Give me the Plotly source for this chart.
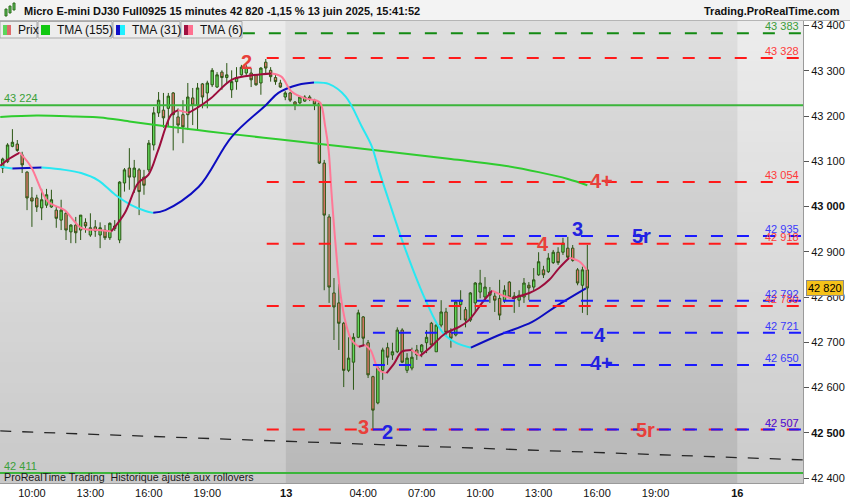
import plotly.graph_objects as go

# ---------------- data ----------------
bar_index = list(range(-58, 63))
open_ = [43085, 43099, 43133, 43138, 43114, 43076, 43019, 43019, 42997, 43003,
         42999, 42992, 42970, 42985, 42944, 42959, 42948, 42965, 42937, 42955,
         42937, 42948, 42931, 42951, 42926, 43052, 43085, 43065, 43081, 43065,
         43081, 43136, 43207, 43213, 43217, 43251, 43198, 43203, 43203, 43240,
         43224, 43271, 43251, 43269, 43264, 43297, 43285, 43258, 43276, 43291,
         43295, 43295, 43291, 43273, 43319, 43301, 43285, 43273, 43242, 43251,
         43231, 43229, 43233, 43242, 43235, 43229, 43096, 42977, 42809, 42787,
         42742, 42638, 42656, 42711, 42756, 42699, 42624, 42566, 42638, 42688,
         42672, 42679, 42727, 42638, 42643, 42683, 42679, 42699, 42742, 42679,
         42738, 42767, 42722, 42716, 42783, 42772, 42749, 42787, 42811, 42800,
         42811, 42802, 42797, 42793, 42833, 42802, 42793, 42800, 42826, 42822,
         42849, 42860, 42856, 42876, 42899, 42899, 42908, 42908, 42860, 42826,
         42860]
high = [43108, 43140, 43171, 43147, 43121, 43078, 43043, 43026, 43039, 43039,
        43037, 42999, 43015, 42990, 42961, 42977, 42981, 42974, 42985, 42970,
        42965, 42959, 42965, 42970, 43056, 43085, 43129, 43103, 43085, 43081,
        43147, 43220, 43253, 43251, 43251, 43253, 43217, 43235, 43273, 43262,
        43273, 43273, 43278, 43306, 43297, 43301, 43317, 43301, 43308, 43313,
        43313, 43306, 43292, 43308, 43326, 43308, 43291, 43280, 43255, 43253,
        43233, 43244, 43246, 43246, 43238, 43233, 43103, 42983, 42842, 42829,
        42745, 42711, 42720, 42772, 42758, 42705, 42626, 42647, 42688, 42699,
        42699, 42733, 42731, 42676, 42688, 42694, 42696, 42727, 42745, 42740,
        42793, 42776, 42731, 42793, 42815, 42778, 42811, 42833, 42860, 42844,
        42822, 42811, 42838, 42826, 42835, 42811, 42815, 42842, 42833, 42864,
        42899, 42869, 42897, 42904, 42910, 42931, 42933, 42915, 42864, 42867,
        42915]
low = [43074, 43096, 43131, 43121, 43074, 42992, 42955, 42988, 42970, 42997,
       42997, 42953, 42948, 42926, 42919, 42919, 42926, 42942, 42933, 42933,
       42908, 42926, 42926, 42946, 42919, 43033, 43037, 43030, 42981, 43026,
       43076, 43124, 43198, 43174, 43176, 43124, 43162, 43140, 43169, 43180,
       43169, 43217, 43217, 43264, 43262, 43258, 43273, 43240, 43258, 43289,
       43287, 43264, 43267, 43247, 43291, 43276, 43269, 43262, 43235, 43231,
       43213, 43226, 43231, 43233, 43213, 43094, 42815, 42787, 42705, 42683,
       42601, 42634, 42595, 42709, 42694, 42621, 42505, 42563, 42617, 42650,
       42661, 42676, 42654, 42632, 42638, 42661, 42667, 42676, 42690, 42679,
       42733, 42716, 42688, 42713, 42749, 42733, 42745, 42767, 42797, 42793,
       42787, 42767, 42749, 42787, 42797, 42765, 42778, 42787, 42793, 42815,
       42847, 42842, 42853, 42873, 42871, 42893, 42886, 42878, 42826, 42765,
       42760]
close = [43105, 43136, 43142, 43124, 43092, 43019, 43012, 42999, 43015, 43026,
         43015, 42974, 42992, 42948, 42959, 42942, 42981, 42957, 42953, 42946,
         42953, 42931, 42963, 42957, 43054, 43081, 43065, 43085, 43033, 43047,
         43140, 43207, 43235, 43196, 43244, 43203, 43180, 43176, 43242, 43224,
         43262, 43242, 43273, 43301, 43291, 43285, 43291, 43276, 43285, 43308,
         43308, 43280, 43269, 43306, 43306, 43287, 43276, 43264, 43251, 43235,
         43224, 43242, 43242, 43237, 43226, 43096, 42981, 42822, 42778, 42742,
         42638, 42665, 42711, 42765, 42709, 42628, 42550, 42643, 42683, 42667,
         42679, 42727, 42656, 42665, 42667, 42672, 42694, 42711, 42694, 42738,
         42767, 42722, 42709, 42789, 42793, 42749, 42809, 42831, 42831, 42822,
         42804, 42793, 42760, 42815, 42800, 42797, 42804, 42831, 42820, 42838,
         42878, 42849, 42886, 42899, 42876, 42919, 42888, 42881, 42831, 42860,
         42820]

# moving averages
tma155_x = [-58.5, -51, -43, -38, -32, -25, -18, -11, -1, 9, 19, 34, 44, 52, 58, 62]
tma155_y = [43198, 43201, 43199, 43197, 43188, 43178, 43169, 43160, 43148, 43136,
            43124, 43105, 43092, 43076, 43061, 43047]

tma31_x = [-58.5, -56, -50, -45.3, -41.9, -38.4, -34.9, -31.6, -28.7, -27.1, -24.6,
           -17.8, -11, -4, -1.4, 2.7, 5.9, 8.9, 12.4, 15.7, 17.8, 19.2, 21.2, 24.7,
           28.8, 32.2, 35, 38.1, 43.9, 50.7, 55.5, 61.7]
tma31_y = [43088, 43084, 43086, 43081, 43074, 43058, 43026, 43003, 42990, 42986, 42992,
           43043, 43154, 43224, 43251, 43269, 43274, 43271, 43243, 43177, 43132, 43081,
           43015, 42904, 42793, 42723, 42699, 42688, 42716, 42745, 42779, 42819]

tma6_x = [-58.5, -57, -54.5, -52.2, -48.7, -45.3, -41.9, -38.4, -35.7, -32.9, -30.2,
          -28.1, -26.1, -23.4, -22, -19.9, -17.8, -15.2, -11, -7.5, -2.8, -0.8, 1.3,
          4.1, 6.2, 7.2, 8.2, 8.9, 9.5, 10.3, 11.3, 12.4, 13.6, 15.1, 16.3, 17.5,
          19.2, 20.8, 22.4, 23.9, 25.9, 27.7, 29.7, 32.9, 35.7, 37.7, 40.4, 42.5,
          44.5, 46.5, 50.1, 52.1, 54.2, 56.2, 58.3, 60.3, 61.9]
tma6_y = [43090, 43103, 43119, 43088, 43011, 42992, 42953, 42948, 42945, 42986, 43052,
          43070, 43124, 43203, 43213, 43207, 43220, 43240, 43280, 43289, 43294, 43287,
          43254, 43239, 43235, 43229, 43177, 43124, 43030, 42919, 42809, 42743, 42705,
          42690, 42694, 42683, 42639, 42632, 42654, 42679, 42683, 42670, 42688, 42720,
          42734, 42749, 42787, 42814, 42804, 42797, 42809, 42820, 42838, 42864, 42887,
          42879, 42860]

# horizontal levels
red_levels = [43328, 43054, 42918, 42780, 42507]
blue_levels = [42935, 42792, 42721, 42650, 42507]
green_dash_level = 43383
green_solid_levels = [43224, 42411]
red_start, blue_start, green_dash_start = -3.8, 18.0, -8.7
trend_x = [-58.5, 106.3]
trend_y = [42504, 42440]
last_price = 42820

# big wave labels: text, colour key, bar position, price
wave_labels = [("2", "r", -8, 43320), ("3", "r", 16, 42513), ("2", "b", 21, 42502),
               ("4", "r", 53, 42918), ("3", "b", 60, 42950), ("5r", "b", 73.2, 42935),
               ("4+", "r", 65, 43056), ("4", "b", 64.7, 42716), ("4+", "b", 65, 42654),
               ("5r", "r", 74, 42506)]

x_tick_pos = [-52, -40, -28, -16, 0.2, 16, 28, 40, 52, 64, 76, 92.8]
x_tick_txt = ["10:00", "13:00", "16:00", "19:00", "<b>13</b>", "04:00", "07:00",
              "10:00", "13:00", "16:00", "19:00", "<b>16</b>"]
y_ticks = list(range(42400, 43401, 100))
day_bounds = [-58.6, 0.1, 92.8, 106.4]

# ---------------- style ----------------
X_RANGE = [-58.55, 106.27]
Y_RANGE = [42389, 43410]
PLOT_L, PLOT_R, PLOT_T, PLOT_B = 0, 803, 21, 483
FONT = "Liberation Sans, Arial, sans-serif"
WICK = "#2b5614"
UP = "#62d95a"
DOWN = "#e4786c"
RED = "#ff1a1a"
BLUE = "#1a1aff"
RED_T = "#e8403a"
BLUE_T = "#2222e0"
DASH = "12px,14px"


def fmt(v):
    return f"{v:,}".replace(",", " ")


def px(x):
    return (x - PLOT_L) / (PLOT_R - PLOT_L)


def py(y):
    return (PLOT_B - y) / (PLOT_B - PLOT_T)


fig = go.Figure()

# background day bands with vertical gradient (heatmaps sit below candles)
band_cols = [("#c9c9c9", "#ebebeb"), ("#b8b8b8", "#dfdfdf"), ("#cbcbcb", "#ececec")]
NROWS = 46
y_edges = [Y_RANGE[0] + (Y_RANGE[1] - Y_RANGE[0]) * k / NROWS for k in range(NROWS + 1)]
for i in range(3):
    a, b = day_bounds[i], day_bounds[i + 1]
    bot, top = band_cols[i]
    fig.add_trace(go.Heatmap(
        x=[a, b], y=y_edges, z=[[k / (NROWS - 1)] for k in range(NROWS)],
        zmin=0, zmax=1, colorscale=[[0, bot], [1, top]], showscale=False,
        hoverinfo="skip"))

# solid green levels
for lv in green_solid_levels:
    fig.add_trace(go.Scatter(x=X_RANGE, y=[lv, lv], mode="lines",
                             line=dict(color="#3bb53b", width=2), hoverinfo="skip",
                             showlegend=False))

# diagonal trend line
fig.add_trace(go.Scatter(x=trend_x, y=trend_y, mode="lines",
                         line=dict(color="#262626", width=1.3, dash="11px,11px"),
                         hoverinfo="skip", showlegend=False))

# TMA 155
fig.add_trace(go.Scatter(x=tma155_x, y=tma155_y, mode="lines", line_shape="spline",
                         line=dict(color="#2fcc2f", width=2), hoverinfo="skip",
                         showlegend=False))


def add_two_colour(xs, ys, up_col, down_col, width=2):
    runs = []
    cur = [0]
    direction = None
    for k in range(1, len(xs)):
        d = ys[k] >= ys[k - 1]
        if direction is None or d == direction:
            cur.append(k)
        else:
            runs.append((direction, cur))
            cur = [k - 1, k]
        direction = d
    runs.append((direction, cur))
    for d, idx in runs:
        fig.add_trace(go.Scatter(x=[xs[k] for k in idx], y=[ys[k] for k in idx],
                                 mode="lines", line_shape="spline",
                                 line=dict(color=up_col if d else down_col, width=width),
                                 hoverinfo="skip", showlegend=False))


# candles
fig.add_trace(go.Candlestick(
    x=bar_index, open=open_, high=high, low=low, close=close,
    increasing=dict(line=dict(color=WICK, width=1), fillcolor=UP),
    decreasing=dict(line=dict(color=WICK, width=1), fillcolor=DOWN),
    whiskerwidth=0, showlegend=False, hoverinfo="skip"))

add_two_colour(tma31_x, tma31_y, "#0d0dc0", "#28e8f2")
add_two_colour(tma6_x, tma6_y, "#9c0d3c", "#ff7896")

# dashed levels
fig.add_trace(go.Scatter(x=[green_dash_start, X_RANGE[1]], y=[green_dash_level] * 2,
                         mode="lines", line=dict(color="#138a13", width=2, dash=DASH),
                         hoverinfo="skip", showlegend=False))
for lv in red_levels:
    fig.add_trace(go.Scatter(x=[red_start, X_RANGE[1]], y=[lv, lv], mode="lines",
                             line=dict(color=RED, width=2, dash=DASH),
                             hoverinfo="skip", showlegend=False))
for lv in blue_levels:
    fig.add_trace(go.Scatter(x=[blue_start, X_RANGE[1]], y=[lv, lv], mode="lines",
                             line=dict(color=BLUE, width=2, dash=DASH),
                             hoverinfo="skip", showlegend=False))

ann = []
shapes = []


# level labels on the right
def level_label(v, col, op=1.0):
    ann.append(dict(x=px(800), xref="paper", y=v, yref="y", xanchor="right",
                    yanchor="bottom", text=fmt(v), showarrow=False, opacity=op,
                    font=dict(family=FONT, size=11, color=col), borderpad=0))


level_label(green_dash_level, "#3a9c3a")
for lv in red_levels:
    level_label(lv, "#ff3a3a")
for lv in blue_levels:
    level_label(lv, "#2a2aff", 0.9)

# left labels on solid green levels
for lv in green_solid_levels:
    ann.append(dict(x=px(3), xref="paper", y=lv, yref="y", xanchor="left",
                    yanchor="bottom", text=fmt(lv), showarrow=False, borderpad=0,
                    font=dict(family=FONT, size=11, color="#3aa03a")))

# wave labels
for t, c, xv, yv in wave_labels:
    ann.append(dict(x=xv, y=yv, xref="x", yref="y", text=f"<b>{t}</b>", showarrow=False,
                    font=dict(family=FONT, size=20, color=RED_T if c == "r" else BLUE_T)))

# current price tag
ann.append(dict(x=px(806), xref="paper", y=last_price, yref="y", xanchor="left",
                yanchor="middle", text=fmt(last_price), showarrow=False,
                bgcolor="#f6c21a", bordercolor="#8a8a8a", borderwidth=1, borderpad=1,
                font=dict(family=FONT, size=11, color="#000")))

# title bar
shapes.append(dict(type="rect", xref="paper", yref="paper", x0=px(0), x1=px(850),
                   y0=py(21), y1=py(0), fillcolor="#f3f3f3", line=dict(width=0),
                   layer="above"))
shapes.append(dict(type="line", xref="paper", yref="paper", x0=px(0), x1=px(850),
                   y0=py(20.5), y1=py(20.5), line=dict(color="#b5b5b5", width=1),
                   layer="above"))
# little candle icon
for (x0, x1, y0, y1, col) in [(5, 7, 9, 16, "#5dc85d"), (9, 11, 6, 13, "#5dc85d"),
                              (13, 15, 3, 10, "#5dc85d")]:
    shapes.append(dict(type="rect", xref="paper", yref="paper", x0=px(x0), x1=px(x1),
                       y0=py(y1), y1=py(y0), fillcolor=col,
                       line=dict(color="#2d6a1a", width=1), layer="above"))
ann.append(dict(x=px(22), y=py(11), xref="paper", yref="paper", xanchor="left",
                yanchor="middle", showarrow=False,
                text="<b>Micro E-mini DJ30 Full0925 15 minutes 42 820 -1,15 % 13 juin 2025, 15:41:52</b>",
                font=dict(family=FONT, size=11, color="#111")))
ann.append(dict(x=px(842), y=py(11), xref="paper", yref="paper", xanchor="right",
                yanchor="middle", showarrow=False, text="<b>Trading.ProRealTime.com</b>",
                font=dict(family=FONT, size=11, color="#111")))

# legend row
legend_boxes = [(0, 37, "Prix", 16, [("#5cd65c", 3, 7), ("#e06a6a", 7, 11)]),
                (38, 112, "TMA (155)", 55, [("#11c811", 41, 50)]),
                (113, 180, "TMA (31)", 130, [("#1010c8", 116, 120), ("#20f0ff", 120, 125)]),
                (181, 242, "TMA (6)", 198, [("#a01040", 184, 188), ("#ff7090", 188, 193)])]
for x0, x1, label, tx, icons in legend_boxes:
    shapes.append(dict(type="rect", xref="paper", yref="paper", x0=px(x0), x1=px(x1),
                       y0=py(38), y1=py(21.5), fillcolor="#ededed",
                       line=dict(color="#a9a9a9", width=1), layer="above"))
    for col, a, b in icons:
        shapes.append(dict(type="rect", xref="paper", yref="paper", x0=px(a), x1=px(b),
                           y0=py(35), y1=py(25), fillcolor=col, line=dict(width=0),
                           layer="above"))
    ann.append(dict(x=px(tx), y=py(30), xref="paper", yref="paper", xanchor="left",
                    yanchor="middle", showarrow=False, text=label,
                    font=dict(family=FONT, size=12, color="#111")))

# footer text inside plot
ann.append(dict(x=px(2), y=py(477), xref="paper", yref="paper", xanchor="left",
                yanchor="middle", showarrow=False,
                text="ProRealTime Trading  Historique ajusté aux rollovers",
                font=dict(family=FONT, size=10.7, color="#1a1a1a")))

fig.update_layout(
    width=850, height=500,
    margin=dict(l=PLOT_L, r=850 - PLOT_R, t=PLOT_T, b=500 - PLOT_B),
    paper_bgcolor="white", plot_bgcolor="#d8d8d8",
    showlegend=False, annotations=ann, shapes=shapes,
    xaxis=dict(range=X_RANGE, tickvals=x_tick_pos, ticktext=x_tick_txt, showgrid=False,
               zeroline=False, showline=True, linecolor="#9a9a9a", ticks="",
               tickfont=dict(family=FONT, size=11, color="#111"),
               rangeslider=dict(visible=False), fixedrange=True),
    yaxis=dict(range=Y_RANGE, side="right", tickvals=y_ticks,
               ticktext=[f"<b>{fmt(v)}</b>" if v in (43000, 42500) else fmt(v) for v in y_ticks],
               ticks="outside", ticklen=5, tickcolor="#555", showgrid=False, zeroline=False,
               showline=True, linecolor="#9a9a9a",
               tickfont=dict(family=FONT, size=11, color="#111"), fixedrange=True),
)

fig.write_html("out.html", config={"displayModeBar": False},
               post_script="document.body.style.margin='0';")
